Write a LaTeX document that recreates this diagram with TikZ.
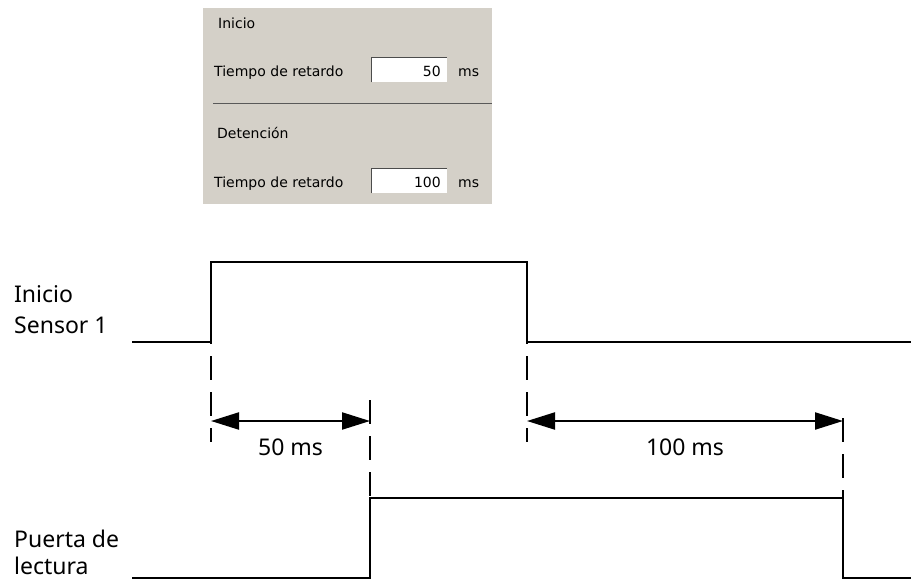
\documentclass[tikz,border=0pt]{standalone}
\usepackage{fontspec}
\setmainfont{Noto Sans}
\newfontfamily\panelfont{DejaVu Sans}
\usetikzlibrary{arrows.meta}
\definecolor{wingray}{RGB}{212,208,200}
\begin{document}
\begin{tikzpicture}[x=1pt,y=-1pt,
signal/.style ={line width=2.2pt,line cap=rect},
guide/.style ={line width=2.2pt,dash pattern=on 24pt off 12pt,dash phase=-14pt},
span/.style ={line width=2.2pt,{Triangle[length=28pt,width=17pt]}-{Triangle[length=28pt,width=17pt]}},
lbl/.style ={anchor=base west,inner sep=0pt,font=\fontsize{23}{28}\selectfont},
ptext/.style ={anchor=base west,inner sep=0pt,font=\panelfont\fontsize{14}{16}\selectfont},
field/.style ={draw=none,fill=white,minimum width=76pt,minimum height=25pt,inner sep=0pt}]

\useasboundingbox (0,0) rectangle (911,581);

% panel
\fill[wingray] (203,8) rectangle (492,204);
\node[ptext] (tInicio) at (218,28) {Inicio};
\node[ptext] (tRet1) at (214,76) {Tiempo de retardo};
\node[field,anchor=north west] (F1) at (371,57) {};
\draw[gray!60!black,line width=1pt] (F1.south west) -- (F1.north west) -- (F1.north east);
\node[ptext,anchor=base east] (v50) at (441,76) {50};
\node[ptext] (ms1) at (458,76) {ms};
\draw[gray!70!black,line width=1pt] (213,103) -- (492,103);
\node[ptext] (tDet) at (217,138) {Detención};
\node[ptext] (tRet2) at (214,187) {Tiempo de retardo};
\node[field,anchor=north west] (F2) at (371,168) {};
\draw[gray!60!black,line width=1pt] (F2.south west) -- (F2.north west) -- (F2.north east);
\node[ptext,anchor=base east] (v100) at (441,187) {100};
\node[ptext] (ms2) at (458,187) {ms};

% Inicio Sensor 1
\node[lbl] (inicio) at (14,302) {Inicio};
\node[lbl] (sensor) at (14,333) {Sensor 1};
\coordinate (A0) at (133,342);
\coordinate (A1) at (211,342);
\coordinate (A2) at (211,262);
\coordinate (A3) at (527,262);
\coordinate (A4) at (527,342);
\coordinate (A5) at (911,342);
\draw[signal] (A0) -- (A1) -- (A2) -- (A3) -- (A4) -- (A5);

% Puerta de lectura
\node[lbl] (puerta) at (14,547) {Puerta de};
\node[lbl] (lectura) at (14,574) {lectura};
\coordinate (B0) at (133,578);
\coordinate (B1) at (370,578);
\coordinate (B2) at (370,498);
\coordinate (B3) at (843,498);
\coordinate (B4) at (843,578);
\coordinate (B5) at (911,578);
\draw[signal] (B0) -- (B1) -- (B2) -- (B3) -- (B4) -- (B5);

% guides
\coordinate (G1) at (211,442);
\coordinate (G2) at (370,400);
\coordinate (G3) at (527,442);
\coordinate (G4) at (843,418);
\draw[guide] (A1) -- (G1);
\draw[guide,dash phase=0pt] (G2) -- (B2);
\draw[guide] (A4) -- (G3);
\draw[guide,dash phase=0pt] (G4) -- (B3);

% spans
\coordinate (S1) at (211,421);
\coordinate (S2) at (370,421);
\coordinate (S3) at (527,421);
\coordinate (S4) at (843,421);
\path (S1) edge[span] node[below=13pt,font=\fontsize{23}{28}\selectfont] {50 ms} (S2);
\path (S3) edge[span] node[below=13pt,font=\fontsize{23}{28}\selectfont] {100 ms} (S4);

\end{tikzpicture}
\end{document}
